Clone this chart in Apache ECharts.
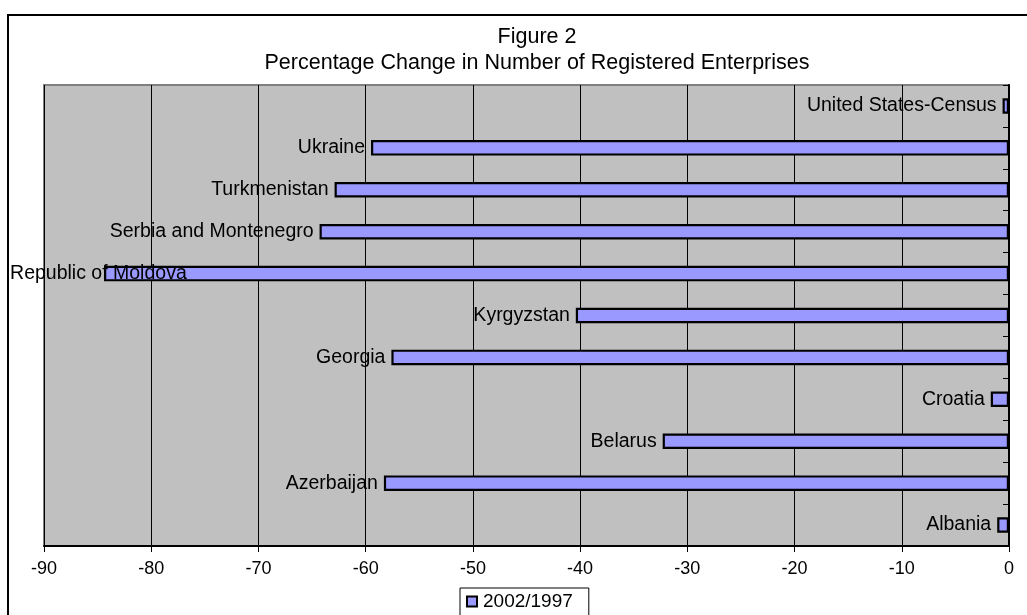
<!DOCTYPE html>
<html>
<head>
<meta charset="utf-8">
<script src="https://cdn.jsdelivr.net/npm/echarts@6/dist/echarts.min.js"></script>
<style>html,body{margin:0;padding:0;background:#fff}#c{width:1027px;height:615px}</style>
</head>
<body>
<div id="c"></div>
<script>
// categories bottom-to-top (ECharts category axis starts at the bottom)
const categories = ["Albania","Azerbaijan","Belarus","Croatia","Georgia","Kyrgyzstan","Republic of Moldova","Serbia and Montenegro","Turkmenistan","Ukraine","United States-Census"];
const values2002_1997 = [-1.1,-58.3,-32.3,-1.7,-57.6,-40.4,-84.4,-64.3,-62.9,-59.5,-0.6];
const seriesName = "2002/1997";
const titleLines = ["Figure 2","Percentage Change in Number of Registered Enterprises"];

const FONT = "Liberation Sans, Arial, sans-serif";
// the longest label is pushed inside the chart area (as in the original), overlapping its bar
const seriesData = values2002_1997.map((v, i) =>
  categories[i] === "Republic of Moldova"
    ? {value: v, label: {position: [-94, '50%'], align: 'left', verticalAlign: 'middle'}}
    : v);

const chart = echarts.init(document.getElementById('c'), null, {renderer:'canvas'});
chart.setOption({
  animation:false,
  backgroundColor:'#fff',
  graphic:[{type:'rect',shape:{x:8,y:15,width:1100,height:700},style:{fill:null,stroke:'#000',lineWidth:2},z:-1}],
  title:{text:titleLines.join('\n'),left:532,textAlign:'center',top:19,textStyle:{fontFamily:FONT,fontSize:21.5,fontWeight:'normal',color:'#000',lineHeight:26}},
  grid:{left:44,right:18,top:85,bottom:69,show:true,backgroundColor:'#C0C0C0',borderColor:'#808080',borderWidth:2},
  legend:{data:[seriesName],left:460,top:588,itemWidth:10,itemHeight:10,icon:'rect',borderColor:'#000',borderWidth:1,padding:[4,16,10,6],itemGap:4,
    textStyle:{fontFamily:FONT,fontSize:19,color:'#000',padding:[0,0,0,1]}},
  xAxis:{type:'value',min:-90,max:0,interval:10,
    axisLine:{show:true,lineStyle:{color:'#000',width:2}},
    axisTick:{show:true,length:6,lineStyle:{color:'#000'}},
    axisLabel:{fontFamily:FONT,fontSize:18,color:'#000',margin:14},
    splitLine:{show:true,lineStyle:{color:'#000',width:1}}},
  yAxis:{type:'category',data:categories,position:'right',
    axisLine:{show:true,lineStyle:{color:'#000',width:2}},
    axisTick:{show:true,inside:true,length:6,lineStyle:{color:'#000'}},
    axisLabel:{show:false}},
  series:[{type:'bar',name:seriesName,data:seriesData,barWidth:15.5,
    itemStyle:{color:'#9999FF',borderColor:'#000',borderWidth:2.2},
    label:{show:true,position:'left',distance:6,formatter:'{b}',fontFamily:FONT,fontSize:19.5,color:'#000'}}]
});
</script>
</body>
</html>
